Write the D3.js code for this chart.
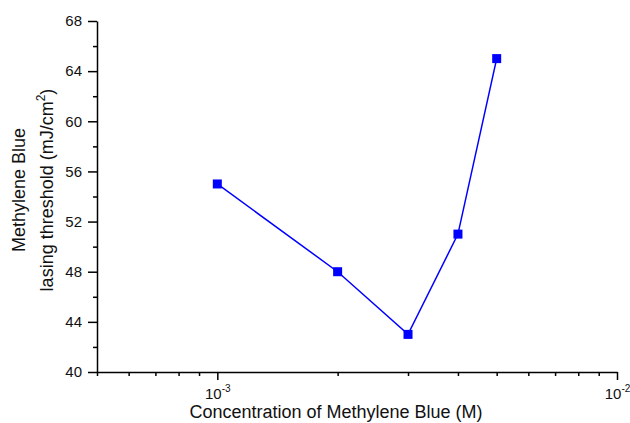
<!DOCTYPE html>
<html>
  <head>
    <meta charset="utf-8" />
    <title>Methylene Blue lasing threshold</title>
    <style>
      html, body {
        margin: 0;
        padding: 0;
        background: white;
      }
      svg text {
        font-family: "Liberation Sans", Arial, sans-serif;
        fill: #111;
      }
      .domain, .tick line {
        stroke: #000;
        stroke-width: 1.5px;
      }
    </style>
  </head>
  <body>
    <script src="https://cdn.jsdelivr.net/npm/d3@7"></script>
    <script>
      // data
      var concentration = [0.001, 0.002, 0.003, 0.004, 0.005];
      var threshold = [55, 48, 43, 51, 65];

      var xMajor = [0.001, 0.01];
      var xMajorExp = ["-3", "-2"];
      var xMinor = [0.0005, 0.0006, 0.0007, 0.0008, 0.0009,
                    0.002, 0.003, 0.004, 0.005, 0.006, 0.007, 0.008, 0.009];
      var yMajor = [40, 44, 48, 52, 56, 60, 64, 68];
      var yMinor = [42, 46, 50, 54, 58, 62, 66];

      var w = 630, h = 423;
      var margin = {top: 21, right: 13, bottom: 51, left: 97};

      var svg = d3.select("body")
        .append("svg")
        .attr("width", w)
        .attr("height", h);

      var x = d3.scaleLog()
        .domain([0.0005, 0.01])
        .range([margin.left, w - margin.right]);

      var y = d3.scaleLinear()
        .domain([40, 68])
        .range([h - margin.bottom, margin.top]);

      // x axis: minor ticks then major ticks with 10^n labels
      svg.append("g")
        .attr("transform", "translate(0," + (h - margin.bottom) + ")")
        .call(d3.axisBottom(x).tickValues(xMinor).tickSize(4).tickSizeOuter(0).tickFormat(""));

      var gx = svg.append("g")
        .attr("transform", "translate(0," + (h - margin.bottom) + ")")
        .call(d3.axisBottom(x).tickValues(xMajor).tickSize(8).tickSizeOuter(0).tickFormat(""));
      gx.select(".domain").remove();

      gx.selectAll(".tick text").remove();
      gx.selectAll(".tick").each(function(d, i) {
        var t = d3.select(this).append("text")
          .attr("y", 27)
          .attr("text-anchor", "middle")
          .style("font-size", "15px");
        t.append("tspan").text("10");
        t.append("tspan")
          .attr("dy", -7)
          .style("font-size", "10px")
          .text(xMajorExp[i]);
      });

      // y axis
      svg.append("g")
        .attr("transform", "translate(" + margin.left + ",0)")
        .call(d3.axisLeft(y).tickValues(yMinor).tickSize(4).tickSizeOuter(0).tickFormat(""));

      var gy = svg.append("g")
        .attr("transform", "translate(" + margin.left + ",0)")
        .call(d3.axisLeft(y).tickValues(yMajor).tickSize(9).tickSizeOuter(0).tickPadding(6));
      gy.select(".domain").remove();
      gy.selectAll(".tick text")
        .style("font-size", "15px")
        .attr("fill", "#111");

      // axis titles
      svg.append("text")
        .attr("x", 336)
        .attr("y", 418)
        .attr("text-anchor", "middle")
        .style("font-size", "18px")
        .text("Concentration of Methylene Blue (M)");

      var cy = 190;
      svg.append("text")
        .attr("transform", "translate(25," + cy + ") rotate(-90)")
        .attr("text-anchor", "middle")
        .style("font-size", "18px")
        .text("Methylene Blue");

      var t2 = svg.append("text")
        .attr("transform", "translate(53," + cy + ") rotate(-90)")
        .attr("text-anchor", "middle")
        .style("font-size", "18px");
      t2.append("tspan").text("lasing threshold (mJ/cm");
      t2.append("tspan").attr("dy", -8).style("font-size", "12px").text("2");
      t2.append("tspan").attr("dy", 8).text(")");

      // series
      var pts = concentration.map(function(c, i) { return [c, threshold[i]]; });

      svg.append("path")
        .datum(pts)
        .attr("fill", "none")
        .attr("stroke", "#0000ff")
        .attr("stroke-width", 1.5)
        .attr("d", d3.line()
          .x(function(d) { return x(d[0]); })
          .y(function(d) { return y(d[1]); }));

      svg.selectAll(".pt")
        .data(pts)
        .enter()
        .append("rect")
        .attr("class", "pt")
        .attr("x", function(d) { return x(d[0]) - 4.5; })
        .attr("y", function(d) { return y(d[1]) - 4.5; })
        .attr("width", 9)
        .attr("height", 9)
        .attr("fill", "#0000ff");
    </script>
  </body>
</html>
